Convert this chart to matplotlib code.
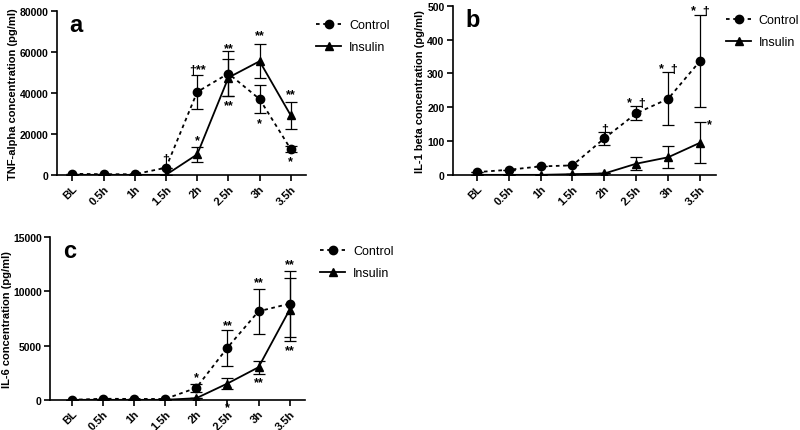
import numpy as np
import matplotlib.pyplot as plt
from matplotlib.lines import Line2D

plt.rcParams['font.family'] = ['Liberation Sans', 'DejaVu Sans']

# Time points
times = ["BL", "0.5h", "1h", "1.5h", "2h", "2.5h", "3h", "3.5h"]

# Panel a: TNF-alpha (pg/ml)
tnf_control = [500, 300, 300, 3500, 40500, 49500, 37000, 12500]
tnf_control_err = [0, 0, 0, 0, 8200, 11000, 7000, 1500]
tnf_insulin = [0, 0, 0, 0, 10000, 47500, 55500, 29000]
tnf_insulin_err = [0, 0, 0, 0, 3800, 9000, 8200, 6800]

# Panel b: IL-1 beta (pg/ml)
il1_control = [8, 15, 25, 28, 108, 182, 225, 337]
il1_control_err = [0, 0, 0, 0, 20, 21, 78, 136]
il1_insulin = [0, 0, 0, 2, 4, 33, 52, 95]
il1_insulin_err = [0, 0, 0, 0, 0, 20, 32, 61]

# Panel c: IL-6 (pg/ml)
il6_control = [0, 100, 80, 80, 1100, 4800, 8150, 8850]
il6_control_err = [0, 0, 0, 0, 400, 1650, 2100, 3050]
il6_insulin = [0, 0, 0, 0, 150, 1500, 3000, 8300]
il6_insulin_err = [0, 0, 0, 0, 0, 500, 600, 2900]

# Significance marks: (time index, y value, text, x offset)
tnf_marks = [(3, 7500, "\u2020", 0), (4, 51000, "\u2020**", 0), (4, 17000, "*", 0),
             (5, 62000, "**", 0), (5, 34000, "**", 0), (6, 68000, "**", 0),
             (6, 25000, "*", 0), (7, 39500, "**", 0), (7, 6500, "*", 0)]
il1_marks = [(4, 137, "\u2020", 0), (5, 212, "*  \u2020", 0), (6, 313, "*  \u2020", 0),
             (7, 485, "*  \u2020", 0), (7, 150, "*", 0.3)]
il6_marks = [(4, 2100, "*", 0), (5, 6900, "**", 0), (5, -700, "*", 0),
             (6, 10800, "**", 0), (6, 1600, "**", 0), (7, 12500, "**", 0),
             (7, 4600, "**", 0)]

x = np.arange(len(times))

fig = plt.figure(figsize=(8, 4.31), dpi=100)


def draw_panel(rect, xlim, control, control_err, insulin, insulin_err,
               ylim, yticks, ylabel, label_x, letter, marks, legend_pos):
    ax = fig.add_axes(rect)
    ax.errorbar(x, control, yerr=control_err, color="black", ls=(0, (2, 2)),
                lw=1.3, marker="o", ms=6, capsize=4, elinewidth=0.9,
                capthick=0.9)
    ax.errorbar(x, insulin, yerr=insulin_err, color="black", ls="-",
                lw=1.3, marker="^", ms=6, capsize=4, elinewidth=0.9,
                capthick=0.9)
    ax.set_xlim(*xlim)
    ax.set_ylim(*ylim)
    ax.set_yticks(yticks)
    ax.set_xticks(x)
    ax.set_xticklabels(times, rotation=45, ha="right", rotation_mode="anchor",
                       fontweight="bold", fontsize=8)
    for lab in ax.get_yticklabels():
        lab.set_fontweight("bold")
        lab.set_fontsize(7.5)
    ax.spines["top"].set_visible(False)
    ax.spines["right"].set_visible(False)
    ax.spines["left"].set_linewidth(1.2)
    ax.spines["bottom"].set_linewidth(1.2)
    ax.tick_params(width=1.2, length=4)
    ax.tick_params(axis="x", pad=2)
    ax.tick_params(axis="y", pad=2)
    ax.set_ylabel(ylabel, fontweight="bold", fontsize=8)
    ax.yaxis.set_label_coords(label_x, 0.5)
    ax.text(0.05, 0.99, letter, transform=ax.transAxes, fontsize=17,
            fontweight="bold", va="top", ha="left")
    for xi, yv, txt, dx in marks:
        ax.text(xi + dx, yv, txt, ha="center", va="center", fontsize=9,
                fontweight="bold", clip_on=False)
    handles = [Line2D([], [], color="black", ls=(0, (2, 2)), lw=1.3,
                      marker="o", ms=6),
               Line2D([], [], color="black", ls="-", lw=1.3,
                      marker="^", ms=6)]
    ax.legend(handles, ["Control", "Insulin"], loc="upper left",
              bbox_to_anchor=legend_pos, frameon=False, fontsize=9,
              handlelength=2.0, handletextpad=0.6, borderaxespad=0,
              labelspacing=0.8)
    return ax


draw_panel([0.071, 0.592, 0.312, 0.380], (-0.5, 7.5),
           tnf_control, tnf_control_err, tnf_insulin, tnf_insulin_err,
           (0, 80000), [0, 20000, 40000, 60000, 80000],
           "TNF-alpha concentration (pg/ml)", -0.155, "a", tnf_marks, (1.02, 0.98))

draw_panel([0.566, 0.592, 0.329, 0.392], (-0.75, 7.5),
           il1_control, il1_control_err, il1_insulin, il1_insulin_err,
           (0, 500), [0, 100, 200, 300, 400, 500],
           "IL-1 beta concentration (pg/ml)", -0.105, "b", il1_marks, (1.02, 0.98))

draw_panel([0.0625, 0.070, 0.319, 0.378], (-0.7, 7.5),
           il6_control, il6_control_err, il6_insulin, il6_insulin_err,
           (0, 15000), [0, 5000, 10000, 15000],
           "IL-6 concentration (pg/ml)", -0.15, "c", il6_marks, (1.04, 0.98))

fig.savefig("out.png", dpi=100)
